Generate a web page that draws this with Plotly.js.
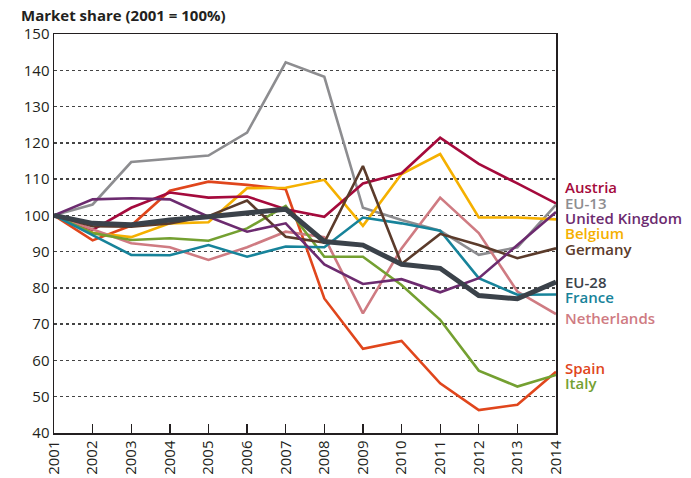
<!DOCTYPE html>
<html>
<head>
<meta charset="utf-8">
<script src="https://cdn.plot.ly/plotly-3.0.1.min.js"></script>
<style>html,body{margin:0;padding:0;background:#fff;}#chart{width:691px;height:478px;}</style>
</head>
<body>
<div id="chart"></div>
<script>
const years = [2001,2002,2003,2004,2005,2006,2007,2008,2009,2010,2011,2012,2013,2014];
const austria     = [100, 96.0, 102.1, 106.3, 104.9, 105.2, 101.7, 99.6, 108.8, 111.6, 121.4, 114.2, 108.8, 103.3];
const eu13        = [100, 103.0, 114.7, 115.5, 116.5, 122.8, 142.2, 138.2, 102.1, 98.7, 95.8, 89.1, 91.2, 102.9];
const uk          = [100, 104.4, 104.7, 104.4, 99.6, 95.5, 97.8, 86.5, 81.1, 82.4, 78.8, 82.7, 91.8, 100.9];
const belgium     = [100, 95.2, 94.0, 97.8, 98.1, 107.5, 107.6, 109.8, 97.1, 111.4, 116.9, 99.4, 99.4, 98.9];
const germany     = [100, 97.0, 96.9, 97.8, 99.8, 104.1, 94.1, 92.5, 113.6, 86.6, 94.9, 91.8, 88.2, 90.9];
const eu28        = [100, 97.8, 97.4, 98.7, 99.6, 100.6, 101.7, 92.8, 91.8, 86.5, 85.4, 77.9, 77.0, 81.6];
const france      = [100, 94.6, 89.1, 89.0, 91.8, 88.6, 91.4, 91.2, 99.4, 97.8, 95.8, 82.7, 78.1, 78.2];
const netherlands = [100, 96.2, 92.3, 91.2, 87.7, 91.2, 95.5, 94.0, 73.0, 90.9, 104.9, 95.1, 79.0, 72.8];
const spain       = [100, 93.1, 97.2, 106.8, 109.3, 108.4, 107.2, 77.1, 63.2, 65.4, 53.7, 46.3, 47.8, 56.9];
const italy       = [100, 95.1, 93.2, 93.7, 93.0, 96.4, 102.6, 88.6, 88.6, 80.8, 71.2, 57.2, 52.8, 56.0];

const yTicks = [40,50,60,70,80,90,100,110,120,130,140,150];

const series = [
  {name:'EU-13', y:eu13, color:'#8d8d90', w:2.6, ly:103.4},
  {name:'Spain', y:spain, color:'#e0461c', w:2.6, ly:57.9},
  {name:'Belgium', y:belgium, color:'#f5b000', w:2.6, ly:95.1},
  {name:'Austria', y:austria, color:'#a50a3c', w:2.6, ly:107.8},
  {name:'Netherlands', y:netherlands, color:'#cf7b82', w:2.6, ly:71.7},
  {name:'Italy', y:italy, color:'#74a031', w:2.6, ly:53.8},
  {name:'France', y:france, color:'#17839a', w:2.6, ly:77.5},
  {name:'Germany', y:germany, color:'#5b3b2b', w:2.6, ly:90.7},
  {name:'United Kingdom', y:uk, color:'#6c2b6f', w:2.6, ly:99.3},
  {name:'EU-28', y:eu28, color:'#3b424a', w:5, ly:81.6}
];

const traces = series.map(s => ({
  x: years, y: s.y, type:'scatter', mode:'lines', name:s.name,
  line:{color:s.color, width:s.w}, hoverinfo:'skip'
}));

const annotations = series.map(s => ({
  xref:'paper', yref:'y', x:1, y:s.ly, xanchor:'left', yanchor:'middle',
  xshift:7, text:s.name, showarrow:false,
  font:{family:'Open Sans, sans-serif', size:15, color:s.color, weight:600}
}));

annotations.push({
  xref:'paper', yref:'paper', x:0, y:1, xshift:-35, yshift:19, xanchor:'left', yanchor:'middle',
  text:'<b>Market share (2001 = 100%)</b>', showarrow:false,
  font:{family:'Open Sans, sans-serif', size:15, color:'#231f20'}
});

const layout = {
  width:691, height:478,
  margin:{l:54, r:135, t:34, b:45},
  paper_bgcolor:'#fff', plot_bgcolor:'#fff',
  showlegend:false,
  font:{family:'Open Sans, sans-serif', color:'#231f20'},
  xaxis:{
    range:[2001,2014], tickmode:'array', tickvals:years, ticktext:years.map(String),
    tickangle:-90, ticks:'inside', ticklen:9, tickwidth:1.3, tickcolor:'#231f20',
    showline:true, linecolor:'#231f20', linewidth:1.5, mirror:true,
    showgrid:false, zeroline:false,
    tickfont:{size:15, color:'#231f20'}
  },
  yaxis:{
    range:[40,150], tickmode:'array', tickvals:yTicks,
    showline:true, linecolor:'#231f20', linewidth:1.5, mirror:true,
    showgrid:true, gridcolor:'#444', griddash:'dot', gridwidth:1.5,
    zeroline:false, ticks:'', ticklen:0,
    tickfont:{size:15, color:'#231f20'}
  },
  annotations: annotations
};

Plotly.newPlot('chart', traces, layout, {displayModeBar:false, staticPlot:true});
</script>
</body>
</html>
